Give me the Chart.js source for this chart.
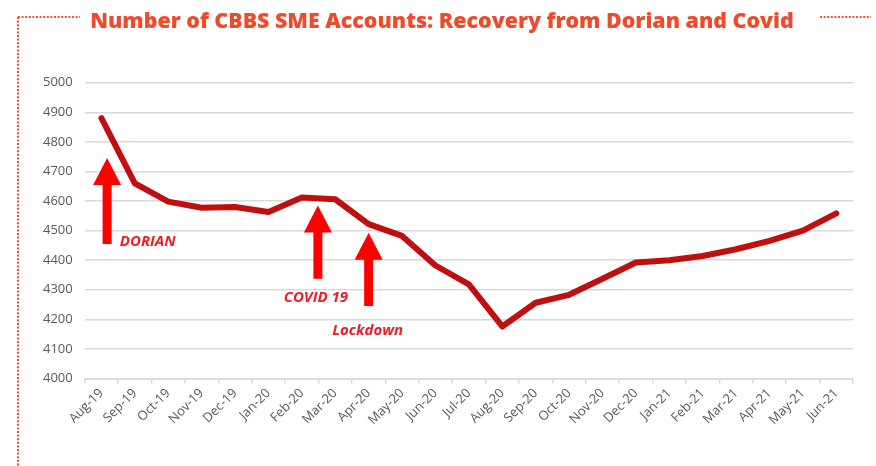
<!DOCTYPE html>
<html>
<head>
<meta charset="utf-8">
<script src="https://cdn.jsdelivr.net/npm/chart.js@4"></script>
<style>
html,body{margin:0;padding:0;background:#fff;}
#wrap{position:relative;width:876px;height:466px;}
</style>
</head>
<body>
<div id="wrap"><canvas id="c" width="876" height="466"></canvas></div>
<script>
// ---- data ----
const months = ['Aug-19','Sep-19','Oct-19','Nov-19','Dec-19','Jan-20','Feb-20','Mar-20','Apr-20','May-20','Jun-20','Jul-20','Aug-20','Sep-20','Oct-20','Nov-20','Dec-20','Jan-21','Feb-21','Mar-21','Apr-21','May-21','Jun-21'];
const smeAccounts = [4880,4660,4598,4577,4580,4563,4612,4606,4522,4482,4382,4318,4176,4256,4283,4337,4392,4400,4414,4437,4465,4500,4558];
const yTicks = [4000,4100,4200,4300,4400,4500,4600,4700,4800,4900,5000];
const titleText = 'Number of CBBS SME Accounts: Recovery from Dorian and Covid';
// annotation events (category index, arrow tip value, arrow base value)
const eventLabels = ['DORIAN','COVID 19','Lockdown'];
const eventIndex = [0.17, 6.48, 8.0];
const eventTip = [4745, 4585, 4493];
const eventBase = [4455, 4337, 4245];
const labelIndex = [0.55, 6.42, 7.97];
const labelValue = [4463, 4274, 4162];
const labelAlign = ['left','center','center'];

const framePlugin = {
  id:'frame',
  beforeDraw(chart){
    const ctx = chart.ctx;
    ctx.save();
    ctx.strokeStyle = '#f0502e';
    ctx.lineWidth = 2;
    ctx.setLineDash([2,1.6]);
    ctx.beginPath();
    ctx.moveTo(18,17); ctx.lineTo(18,466);
    ctx.moveTo(18,17); ctx.lineTo(80,17);
    ctx.moveTo(820,17); ctx.lineTo(871,17);
    ctx.stroke();
    ctx.restore();
  }
};

const eventsPlugin = {
  id:'events',
  afterDatasetsDraw(chart){
    const ctx = chart.ctx, xs = chart.scales.x, ys = chart.scales.y;
    ctx.save();
    ctx.fillStyle = '#ff0000';
    for (let i=0;i<eventLabels.length;i++){
      const x = xs.getPixelForValue(eventIndex[i]);
      const tip = ys.getPixelForValue(eventTip[i]);
      const base = ys.getPixelForValue(eventBase[i]);
      const hw = 14, hh = 27, sw = 4.5;
      ctx.beginPath();
      ctx.moveTo(x, tip);
      ctx.lineTo(x+hw, tip+hh);
      ctx.lineTo(x+sw, tip+hh);
      ctx.lineTo(x+sw, base);
      ctx.lineTo(x-sw, base);
      ctx.lineTo(x-sw, tip+hh);
      ctx.lineTo(x-hw, tip+hh);
      ctx.closePath();
      ctx.fill();
      ctx.fillStyle = '#ee1c24';
      ctx.font = 'italic bold 15px "Open Sans"';
      ctx.textAlign = labelAlign[i];
      ctx.textBaseline = 'middle';
      ctx.fillText(eventLabels[i], xs.getPixelForValue(labelIndex[i]), ys.getPixelForValue(labelValue[i]));
      ctx.fillStyle = '#ff0000';
    }
    ctx.restore();
  }
};

new Chart(document.getElementById('c'), {
  type:'line',
  data:{
    labels: months,
    datasets:[{
      data: smeAccounts,
      borderColor:'#c00f0f',
      borderWidth:6,
      pointRadius:0,
      tension:0,
      borderJoinStyle:'round',
      borderCapStyle:'round',
      fill:false
    }]
  },
  options:{
    responsive:false,
    animation:false,
    layout:{padding:{left:31,right:23,top:0,bottom:36}},
    plugins:{
      legend:{display:false},
      tooltip:{enabled:false},
      title:{
        display:true,
        text:titleText,
        color:'#ee4a2b',
        font:{family:'"Open Sans"',size:21.4,weight:'800'},
        padding:{top:9,bottom:48}
      }
    },
    scales:{
      x:{
        offset:true,
        grid:{offset:true,drawOnChartArea:false,drawTicks:true,tickLength:5,color:'#d9d9d9',lineWidth:1.5},
        border:{display:true,color:'#d9d9d9',width:1.5},
        ticks:{color:'#595959',font:{family:'"Open Sans"',size:13},maxRotation:45,minRotation:45,autoSkip:false,padding:2}
      },
      y:{
        min:4000,max:5000,
        afterBuildTicks(scale){ scale.ticks = yTicks.map(v=>({value:v})); },
        grid:{color:'#d9d9d9',lineWidth:1.5,drawTicks:false},
        border:{display:false},
        ticks:{color:'#595959',font:{family:'"Open Sans"',size:13},padding:12,callback:(v)=>String(v)}
      }
    }
  },
  plugins:[framePlugin, eventsPlugin]
});
</script>
</body>
</html>
